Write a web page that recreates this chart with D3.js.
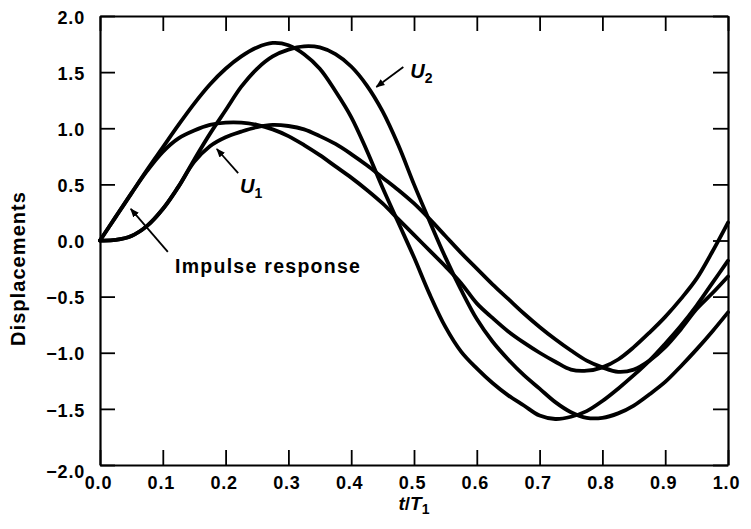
<!DOCTYPE html>
<html>
<head>
<meta charset="utf-8">
<script src="https://cdn.jsdelivr.net/npm/d3@7"></script>
<style>
  html, body { margin: 0; padding: 0; background: #fff; }
  svg { display: block; font-family: "Liberation Sans", Arial, sans-serif; }
</style>
</head>
<body>
<svg id="chart" width="751" height="529"></svg>
<script>
// ---- data ----
const tValues = [0, .025, .05, .075, .1, .125, .15, .175, .2, .225, .25, .275, .3, .325, .35, .375, .4, .425, .45, .475, .5,
                 .525, .55, .575, .6, .625, .65, .675, .7, .725, .75, .775, .8, .825, .85, .875, .9, .925, .95, .975, 1.0];

// impulse response (large amplitude)
const impulseLarge = [0, 0.21, 0.42, 0.63, 0.83, 1.03, 1.22, 1.39, 1.53, 1.64, 1.72, 1.76, 1.74, 1.66, 1.53, 1.33, 1.10, 0.80, 0.47, 0.16, -0.15,
                      -0.48, -0.77, -0.99, -1.14, -1.27, -1.38, -1.47, -1.56, -1.59, -1.57, -1.52, -1.43, -1.32, -1.20, -1.07, -0.92, -0.76, -0.58, -0.38, -0.18];
// impulse response (small amplitude)
const impulseSmall = [0, 0.21, 0.42, 0.62, 0.79, 0.91, 0.98, 1.03, 1.05, 1.05, 1.03, 0.99, 0.93, 0.85, 0.76, 0.66, 0.56, 0.45, 0.33, 0.19, 0.05,
                      -0.09, -0.23, -0.38, -0.56, -0.69, -0.81, -0.91, -1.00, -1.08, -1.15, -1.16, -1.13, -1.06, -0.95, -0.82, -0.68, -0.52, -0.34, -0.10, 0.16];
// U2
const u2 = [0, 0.005, 0.04, 0.13, 0.28, 0.48, 0.72, 0.95, 1.16, 1.37, 1.53, 1.64, 1.70, 1.73, 1.72, 1.66, 1.55, 1.38, 1.15, 0.85, 0.50,
            0.17, -0.15, -0.44, -0.70, -0.90, -1.06, -1.20, -1.32, -1.44, -1.53, -1.58, -1.58, -1.54, -1.47, -1.37, -1.26, -1.12, -0.97, -0.81, -0.64];
// U1
const u1 = [0, 0.005, 0.04, 0.13, 0.28, 0.48, 0.70, 0.84, 0.92, 0.97, 1.01, 1.03, 1.02, 0.99, 0.93, 0.86, 0.77, 0.67, 0.56, 0.45, 0.33,
            0.19, 0.04, -0.11, -0.25, -0.39, -0.52, -0.65, -0.77, -0.88, -0.98, -1.07, -1.13, -1.17, -1.15, -1.07, -0.95, -0.79, -0.61, -0.47, -0.32];

const seriesList = [impulseLarge, impulseSmall, u2, u1];

const xTicks = [0, 0.1, 0.2, 0.3, 0.4, 0.5, 0.6, 0.7, 0.8, 0.9, 1.0];
const yTicks = [-2, -1.5, -1, -0.5, 0, 0.5, 1, 1.5, 2];

// annotation anchors, in data units
const annotations = [
  { name: "U", sub: "2", labelAt: [0.494, 1.45], from: [0.483, 1.546], to: [0.440, 1.367] },
  { name: "U", sub: "1", labelAt: [0.223, 0.42], from: [0.220, 0.601], to: [0.186, 0.815] },
  { name: "Impulse response", sub: null, labelAt: [0.1194, -0.29], from: [0.108, -0.102], to: [0.049, 0.281] }
];

// ---- layout ----
const svg = d3.select("#chart");
const mLeft = 100, mRight = 728, mTop = 16, mBottom = 465;
const x = d3.scaleLinear().domain([0, 1]).range([mLeft, mRight]);
const y = d3.scaleLinear().domain([-2, 2]).range([mBottom, mTop]);
const fmt = d3.format(".1f");

// axes
const tickLen = 15;
const gB = svg.append("g").attr("transform", `translate(0,${mBottom})`)
  .call(d3.axisBottom(x).tickValues(xTicks).tickFormat(fmt).tickSizeInner(-tickLen).tickSizeOuter(0).tickPadding(11));
const gL = svg.append("g").attr("transform", `translate(${mLeft},0)`)
  .call(d3.axisLeft(y).tickValues(yTicks).tickFormat(fmt).tickSizeInner(-tickLen).tickSizeOuter(0).tickPadding(15));
const gT = svg.append("g").attr("transform", `translate(0,${mTop})`)
  .call(d3.axisTop(x).tickValues(xTicks).tickFormat("").tickSizeInner(-tickLen).tickSizeOuter(0));
const gR = svg.append("g").attr("transform", `translate(${mRight},0)`)
  .call(d3.axisRight(y).tickValues(yTicks).tickFormat("").tickSizeInner(-tickLen).tickSizeOuter(0));

[gB, gL, gT, gR].forEach(g => {
  g.select(".domain").attr("stroke", "#000").attr("stroke-width", 2.2);
  g.selectAll(".tick line").attr("stroke", "#000").attr("stroke-width", 1.8);
  g.selectAll(".tick text").attr("fill", "#000")
    .style("font-family", "'Liberation Sans', Arial, sans-serif")
    .style("font-size", "18px").style("font-weight", "bold").style("letter-spacing", "0.8px");
});
gB.selectAll(".tick text").attr("dx", "-2");
gL.selectAll(".tick text").attr("dy", "0.4em");
gL.selectAll(".tick").filter(d => d === -2).select("text").attr("dy", "0.7em");

// curves
const line = d3.line()
  .x((d, i) => x(tValues[i]))
  .y(d => y(d))
  .curve(d3.curveCatmullRom.alpha(0.5));

svg.append("g").selectAll("path.series")
  .data(seriesList)
  .join("path")
  .attr("class", "series")
  .attr("d", d => line(d))
  .attr("fill", "none")
  .attr("stroke", "#000")
  .attr("stroke-width", 3.8)
  .attr("stroke-linejoin", "round")
  .attr("stroke-linecap", "round");

// arrow marker
svg.append("defs").append("marker")
  .attr("id", "arrow")
  .attr("viewBox", "0 0 10 10")
  .attr("refX", 9).attr("refY", 5)
  .attr("markerWidth", 9).attr("markerHeight", 9)
  .attr("markerUnits", "userSpaceOnUse")
  .attr("orient", "auto")
  .append("path").attr("d", "M0,1 L10,5 L0,9 Z").attr("fill", "#000");

// annotations
const ann = svg.append("g");
annotations.forEach(a => {
  ann.append("line")
    .attr("x1", x(a.from[0])).attr("y1", y(a.from[1]))
    .attr("x2", x(a.to[0])).attr("y2", y(a.to[1]))
    .attr("stroke", "#000").attr("stroke-width", 1.8)
    .attr("marker-end", "url(#arrow)");
  const t = ann.append("text")
    .attr("x", x(a.labelAt[0])).attr("y", y(a.labelAt[1]))
    .attr("fill", "#000");
  if (a.sub) {
    t.style("font-size", "20px").style("font-style", "italic").style("font-weight", "bold");
    t.append("tspan").text(a.name);
    t.append("tspan").text(a.sub).attr("dy", 5).style("font-size", "14px").style("font-style", "normal");
  } else {
    t.style("font-size", "19.5px").style("font-weight", "bold")
      .attr("textLength", 185).attr("lengthAdjust", "spacing")
      .text(a.name);
  }
});

// axis titles
svg.append("text")
  .attr("transform", `translate(25,269) rotate(-90)`)
  .attr("text-anchor", "middle")
  .style("font-size", "20px").style("font-weight", "bold")
  .attr("textLength", 154).attr("lengthAdjust", "spacing")
  .text("Displacements");

const xt = svg.append("text")
  .attr("x", x(0.5)).attr("y", 510)
  .attr("text-anchor", "middle")
  .style("font-size", "19px").style("font-weight", "bold");
xt.append("tspan").text("t").style("font-style", "italic");
xt.append("tspan").text("/");
xt.append("tspan").text("T").style("font-style", "italic");
xt.append("tspan").text("1").attr("dy", 4).style("font-size", "14px");
</script>
</body>
</html>
